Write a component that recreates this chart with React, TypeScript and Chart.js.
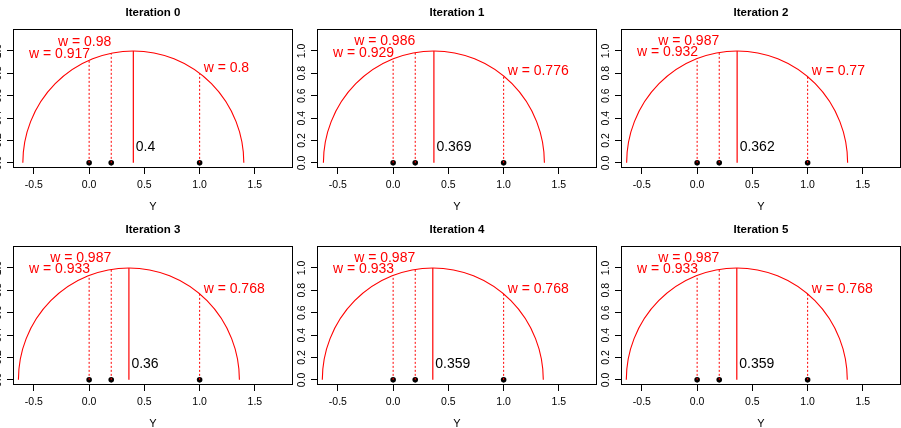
import React, { useEffect, useRef } from "react";
import { Chart, registerables } from "chart.js";

Chart.register(...registerables);

// ---- data ----
const iterations = [0, 1, 2, 3, 4, 5];
const centers = [0.4, 0.369, 0.362, 0.36, 0.359, 0.359];
const observations = [0, 0.2, 1];
const weightAt0 = [0.917, 0.929, 0.932, 0.933, 0.933, 0.933];
const weightAt02 = [0.98, 0.986, 0.987, 0.987, 0.987, 0.987];
const weightAt1 = [0.8, 0.776, 0.77, 0.768, 0.768, 0.768];
const kernelRadius = 1;
const kernelPeak = 1;
const xTicks = [-0.5, 0, 0.5, 1, 1.5];
const yTicks = [0, 0.2, 0.4, 0.6, 0.8, 1];
const xRange = [-0.689, 1.845];
const yRange = [-0.046, 1.196];

// ---- styling / layout ----
const FONT = "'Liberation Sans', Arial, Helvetica, sans-serif";
const RED = "#ff0000";
const PANEL_DX = 304;
const PANEL_DY = 217;
const AXIS_W = 30;
const CANVAS_W = 314;
const CANVAS_H = 214;
const PAD_TOP = 29;
const XAXIS_H = 46;
const labelPlacement = [
  { align: "right" as CanvasTextAlign, dx: 1, dy: 0.055 },
  { align: "right" as CanvasTextAlign, dx: 0, dy: 0.1 },
  { align: "left" as CanvasTextAlign, dx: 4, dy: 0.045 },
];

function Panel({ idx }: { idx: number }) {
  const ref = useRef<HTMLCanvasElement>(null);
  useEffect(() => {
    if (!ref.current) return;
    const center = centers[idx];
    const ws = [weightAt0[idx], weightAt02[idx], weightAt1[idx]];

    const datasets: any[] = [
      ...observations.map((x, i) => ({
        data: [
          { x, y: 0 },
          { x, y: ws[i] },
        ],
        showLine: true,
        borderColor: RED,
        borderWidth: 1,
        borderDash: [2, 2],
        pointRadius: 0,
      })),
      {
        data: [
          { x: center, y: 0 },
          { x: center, y: kernelPeak },
        ],
        showLine: true,
        borderColor: RED,
        borderWidth: 1.2,
        pointRadius: 0,
      },
      {
        data: observations.map((x) => ({ x, y: 0 })),
        showLine: false,
        pointRadius: 2.8,
        backgroundColor: "#000",
        borderColor: "#000",
        borderWidth: 0,
      },
    ];

    const decor = {
      id: "decor" + idx,
      beforeDatasetsDraw(chart: any) {
        const { ctx, scales } = chart;
        const xs = scales.x, ys = scales.y;
        const cx = xs.getPixelForValue(center);
        const cy = ys.getPixelForValue(0);
        const rx = xs.getPixelForValue(center + kernelRadius) - cx;
        const ry = cy - ys.getPixelForValue(kernelPeak);
        ctx.save();
        ctx.strokeStyle = RED;
        ctx.lineWidth = 1.1;
        ctx.beginPath();
        ctx.ellipse(cx, cy, rx, ry, 0, Math.PI, 2 * Math.PI);
        ctx.stroke();
        ctx.restore();
      },
      afterDraw(chart: any) {
        const { ctx, scales, chartArea } = chart;
        const xs = scales.x, ys = scales.y;
        ctx.save();
        // box
        ctx.strokeStyle = "#000";
        ctx.lineWidth = 1;
        ctx.strokeRect(
          Math.round(chartArea.left) + 0.5,
          Math.round(chartArea.top) + 0.5,
          Math.round(chartArea.right - chartArea.left) - 1,
          Math.round(chartArea.bottom - chartArea.top) - 1
        );
        // title
        ctx.fillStyle = "#000";
        ctx.font = `bold 11.5px ${FONT}`;
        ctx.textAlign = "center";
        ctx.textBaseline = "middle";
        ctx.fillText(
          "Iteration " + iterations[idx],
          (chartArea.left + chartArea.right) / 2,
          chartArea.top - 16.5
        );
        // weight labels
        ctx.font = `14px ${FONT}`;
        ctx.fillStyle = RED;
        observations.forEach((x, i) => {
          const p = labelPlacement[i];
          ctx.textAlign = p.align;
          ctx.fillText(
            "w = " + String(ws[i]),
            xs.getPixelForValue(x) + p.dx,
            ys.getPixelForValue(ws[i] + p.dy)
          );
        });
        // center label
        ctx.fillStyle = "#000";
        ctx.textAlign = "left";
        ctx.fillText(String(center), xs.getPixelForValue(center) + 2.5, ys.getPixelForValue(0.14));
        ctx.restore();
      },
    };

    const chart = new Chart(ref.current, {
      type: "scatter",
      data: { datasets },
      plugins: [decor],
      options: {
        animation: false,
        responsive: false,
        devicePixelRatio: 1,
        events: [],
        layout: { padding: { top: PAD_TOP, left: 0, right: CANVAS_W - AXIS_W - 282, bottom: 0 } },
        plugins: { legend: { display: false }, tooltip: { enabled: false } },
        scales: {
          x: {
            type: "linear",
            min: xRange[0],
            max: xRange[1],
            afterBuildTicks: (s: any) => {
              s.ticks = xTicks.map((v) => ({ value: v }));
            },
            afterFit: (s: any) => {
              s.height = XAXIS_H;
            },
            grid: { drawOnChartArea: false, drawTicks: true, tickLength: 6, color: "#000" },
            border: { display: false },
            ticks: {
              autoSkip: false,
              maxRotation: 0,
              padding: 5,
              color: "#000",
              font: { size: 10.5, family: FONT },
              callback: (v: any) => Number(v).toFixed(1),
            },
            title: { display: true, text: "Y", color: "#000", font: { size: 11, family: FONT }, padding: 0 },
          },
          y: {
            type: "linear",
            min: yRange[0],
            max: yRange[1],
            afterBuildTicks: (s: any) => {
              s.ticks = yTicks.map((v) => ({ value: v }));
            },
            afterFit: (s: any) => {
              s.width = AXIS_W;
            },
            grid: { drawOnChartArea: false, drawTicks: true, tickLength: 6, color: "#000" },
            border: { display: false },
            ticks: {
              autoSkip: false,
              minRotation: 90,
              maxRotation: 90,
              crossAlign: "center",
              padding: 1.2,
              color: "#000",
              font: { size: 10.5, family: FONT },
              callback: (v: any) => Number(v).toFixed(1),
            },
          },
        },
      } as any,
    });
    return () => chart.destroy();
  }, [idx]);

  const col = idx % 3;
  const row = Math.floor(idx / 3);
  return (
    <canvas
      ref={ref}
      width={CANVAS_W}
      height={CANVAS_H}
      style={{
        position: "absolute",
        left: 13 - AXIS_W + col * PANEL_DX,
        top: row * PANEL_DY,
        width: CANVAS_W,
        height: CANVAS_H,
      }}
    />
  );
}

export default function App() {
  return (
    <div
      style={{
        position: "absolute",
        left: 0,
        top: 0,
        width: 901,
        height: 428,
        overflow: "hidden",
        background: "#fff",
      }}
    >
      {iterations.map((it, i) => (
        <Panel key={it} idx={i} />
      ))}
    </div>
  );
}
